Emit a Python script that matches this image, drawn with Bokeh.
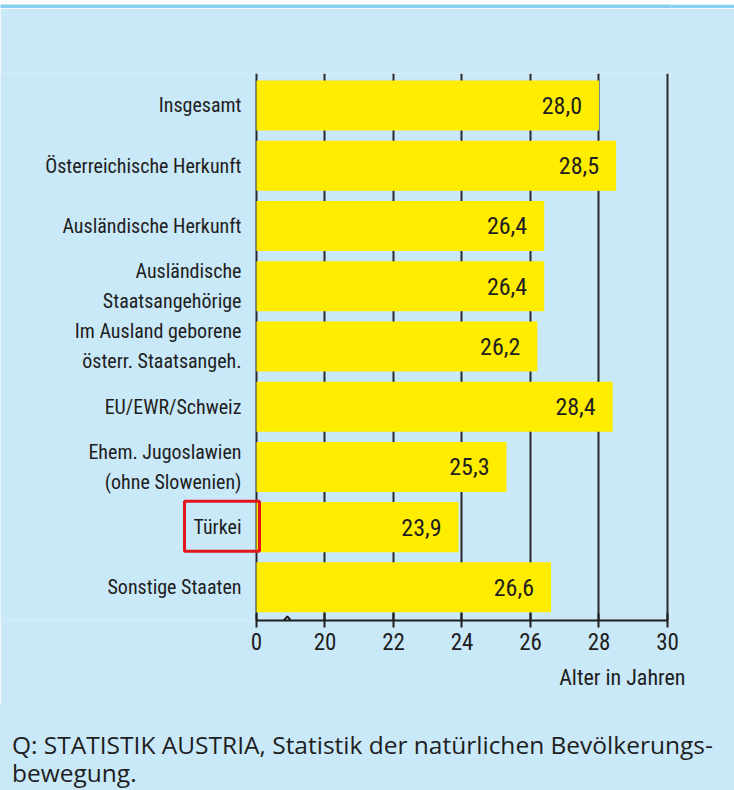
from bokeh.plotting import figure
from bokeh.layouts import column
from bokeh.models import Range1d, FixedTicker, BoxAnnotation, Title, Div, ColumnDataSource
from bokeh.core.properties import value
from bokeh.embed import file_html
from bokeh.resources import INLINE

categories = ["Insgesamt", "Österreichische Herkunft", "Ausländische Herkunft",
              "Ausländische\nStaatsangehörige", "Im Ausland geborene\nösterr. Staatsangeh.",
              "EU/EWR/Schweiz", "Ehem. Jugoslawien\n(ohne Slowenien)", "Türkei", "Sonstige Staaten"]
values = [28.0, 28.5, 26.4, 26.4, 26.2, 28.4, 25.3, 23.9, 26.6]
value_labels = ["28,0", "28,5", "26,4", "26,4", "26,2", "28,4", "25,3", "23,9", "26,6"]
x_ticks = [18, 20, 22, 24, 26, 28, 30]
x_tick_labels = ["0", "20", "22", "24", "26", "28", "30"]
axis_base = 18  # axis break: "0" drawn at position 18
highlight = "Türkei"
x_title = "Alter in Jahren"
source_lines = ["Q: STATISTIK AUSTRIA, Statistik der natürlichen Bevölkerungs-", "bewegung."]

BG = "#C9E8F8"
STRIP = "#87CEF0"
YELLOW = "#FFED00"
DARK = "#1E1E1E"
FONT = "'Roboto Condensed', 'DejaVu Sans Condensed', 'Liberation Sans Narrow', 'Arial Narrow', Roboto"

idx = list(range(len(categories)))
src = ColumnDataSource(dict(y=idx, right=values, lab=value_labels, cat=categories,
                            left=[axis_base] * len(values)))

# thin header strip
strip = figure(width=734, height=8, output_backend="svg", toolbar_location=None,
               x_axis_location=None, y_axis_location=None, min_border=0,
               background_fill_color=STRIP, border_fill_color=STRIP, outline_line_color=None)
strip.grid.grid_line_color = None

p = figure(width=734, height=697, output_backend="svg", toolbar_location=None,
           x_range=Range1d(10.526, 30.088), y_range=Range1d(8.55, -0.53),
           y_axis_location=None,
           min_border_left=0, min_border_right=64, min_border_top=65, min_border_bottom=85,
           background_fill_color=BG, border_fill_color=BG, outline_line_color=None)

p.hbar(y="y", left="left", right="right", height=0.83, source=src,
       fill_color=YELLOW, line_color=None)
p.text(x="right", y="y", text="lab", source=src, x_offset=-17,
       text_align="right", text_baseline="middle", text_font=value(FONT),
       text_font_size="24px", text_color=DARK)
# category labels
p.text(x="left", y="y", text="cat", source=src, x_offset=-15,
       text_align="right", text_baseline="middle", text_font=value(FONT),
       text_font_size="20px", text_color=DARK, text_line_height=1.25)

# axis break mark
p.line(x=[18.61, 18.7, 18.9, 19.0], y=[8.55, 8.62, 8.48, 8.55], line_color=DARK, line_width=2)

# x axis
xa = p.xaxis[0]
xa.ticker = FixedTicker(ticks=x_ticks)
xa.bounds = (x_ticks[0], x_ticks[-1])
xa.major_label_overrides = {t: l for t, l in zip(x_ticks, x_tick_labels)}
xa.axis_line_color = DARK
xa.axis_line_width = 2
xa.major_tick_line_color = DARK
xa.major_tick_line_width = 2
xa.major_tick_in = 7
xa.major_tick_out = 7
xa.minor_tick_line_color = None
xa.major_label_text_font = FONT
xa.major_label_text_font_size = "23px"
xa.major_label_text_color = DARK
xa.major_label_standoff = 5

p.xgrid.ticker = FixedTicker(ticks=x_ticks)
p.xgrid.grid_line_color = "#2A2A2A"
p.xgrid.grid_line_width = 2
p.ygrid.grid_line_color = None

hi = categories.index(highlight)
p.add_layout(BoxAnnotation(left=15.898, right=18.088, top=hi - 0.43, bottom=hi + 0.40,
                           fill_alpha=0, line_color="#E3161E", line_alpha=1.0, line_width=3))

p.add_layout(Title(text=x_title, align="right", offset=-15, standoff=20,
                   text_font=FONT, text_font_size="22px", text_font_style="normal",
                   text_color=DARK), "below")

# footer with source note
footer = Div(text="<br>".join(source_lines), width=734, height=85, margin=0,
             styles={"background-color": BG, "font-family": "'Open Sans', sans-serif",
                     "font-size": "24.5px", "line-height": "28px", "color": DARK,
                     "padding-left": "12px", "padding-top": "26px", "white-space": "nowrap",
                     "box-sizing": "border-box", "overflow": "hidden", "margin": "0"})

layout = column(strip, p, footer, spacing=0)
open("out.html", "w").write(file_html(layout, INLINE))
